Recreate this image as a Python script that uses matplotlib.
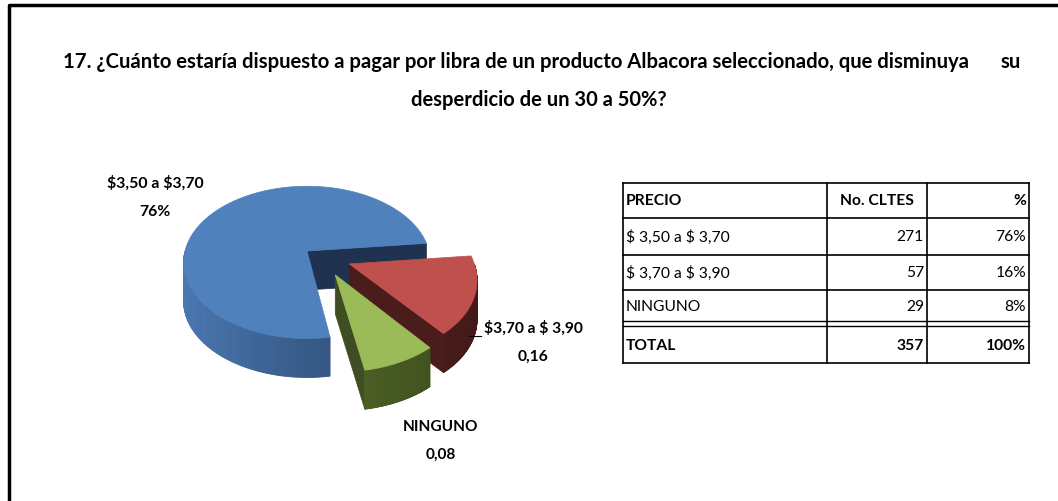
import numpy as np
import matplotlib.pyplot as plt
from matplotlib.colors import to_rgb
from matplotlib.patches import Polygon

plt.rcParams['font.family'] = ['Lato', 'DejaVu Sans']
plt.rcParams['text.parse_math'] = False

# datos
titulo_1 = "17. ¿Cuánto estaría dispuesto a pagar por libra de un producto Albacora seleccionado, que disminuya"
titulo_1b = "su"
titulo_2 = "desperdicio de un 30 a 50%?"
categorias = ['$ 3,50 a $ 3,70', '$ 3,70 a $ 3,90', 'NINGUNO']
clientes = [271, 57, 29]
porcentajes = ['76%', '16%', '8%']
etiquetas_pie = ['$3,50 a $3,70\n76%', '$3,70 a $ 3,90\n0,16', 'NINGUNO\n0,08']
encabezados = ['PRECIO', 'No. CLTES', '%']
fila_total = ['TOTAL', '357', '100%']

col_top = ['#4F81BD', '#C0504D', '#9BBB59']
col_lado_claro = ['#4B79B3', '#5E2424', '#62792F']
col_lado_oscuro = ['#243D5E', '#441919', '#3A4A1C']
col_radial = ['#1F3350', '#4A1C1C', '#3F4E22']

fig = plt.figure(figsize=(10.58, 5.02), dpi=100)
ax = fig.add_axes([0, 0, 1, 1])
ax.set_xlim(0, 1058)
ax.set_ylim(502, 0)
ax.axis('off')
rend = fig.canvas.get_renderer()


def ajustar(t, ancho):
    # ajusta el tamaño de letra para que el texto mida 'ancho' px
    w = t.get_window_extent(rend).width
    t.set_fontsize(t.get_fontsize() * ancho / w)
    return t


# marco
ax.plot([9, 9, 1058], [502, 6, 6], color='black', lw=2.5, solid_capstyle='butt')

# titulo
t1 = ajustar(ax.text(63, 62, titulo_1, fontsize=14, fontweight='bold', va='center', ha='left'), 910)
ax.text(1011, 62, titulo_1b, fontsize=t1.get_fontsize(), fontweight='bold', va='center', ha='center')
ajustar(ax.text(539, 100, titulo_2, fontsize=14, fontweight='bold', va='center', ha='center'), 256)

# pastel 3D con algo de perspectiva
cx, cy = 307, 252
R, ky, h = 122, 0.61, 39
D = 6.7 * R
explode = [0, 46, 46]
desvio = [0, -4, 12]
rot = 6
frac = np.array(clientes) / sum(clientes)
start = rot + 360 * frac[0]
bordes = start - 360 * np.concatenate([[0], np.cumsum(frac)])


def punto(t, r, dz, ex, ey):
    tr = np.radians(t)
    u = ex + r * np.cos(tr)
    v = ey + r * np.sin(tr)
    s = D / (D + v)
    return (cx + s * u, cy - s * ky * v + dz)


def mezcla(c1, c2, s):
    return tuple(np.array(to_rgb(c1)) * (1 - s) + np.array(to_rgb(c2)) * s)


for i in range(len(clientes)):
    t1, t2 = bordes[i + 1], bordes[i]
    mid = np.radians((t1 + t2) / 2 + desvio[i])
    ex = explode[i] * np.cos(mid)
    ey = explode[i] * np.sin(mid)
    # caras radiales
    for t, vis in [(t1, np.cos(np.radians(t1)) > 0), (t2, np.cos(np.radians(t2)) < 0)]:
        if vis:
            pts = [punto(0, 0, 0, ex, ey), punto(t, R, 0, ex, ey),
                   punto(t, R, h, ex, ey), punto(0, 0, h, ex, ey)]
            ax.add_patch(Polygon(pts, closed=True, fc=col_radial[i], ec=col_radial[i], lw=0.5))
    # lado curvo
    ts = np.linspace(t1, t2, 200)
    for a, b in zip(ts[:-1], ts[1:]):
        m = np.radians((a + b) / 2)
        if np.sin(m) < 0:
            s = (1 + np.cos(m)) / 2
            c = mezcla(col_lado_claro[i], col_lado_oscuro[i], s)
            pts = [punto(a, R, 0, ex, ey), punto(b, R, 0, ex, ey),
                   punto(b, R, h, ex, ey), punto(a, R, h, ex, ey)]
            ax.add_patch(Polygon(pts, closed=True, fc=c, ec=c, lw=0.6))
    # cara superior
    pts = [punto(0, 0, 0, ex, ey)] + [punto(t, R, 0, ex, ey) for t in ts]
    ax.add_patch(Polygon(pts, closed=True, fc=col_top[i], ec=col_top[i], lw=0.5))

# etiquetas del pastel
pos_etq = [(155, 197), (533, 342), (441, 441)]
anchos = [97, 99, 75]
for (x, y), txt, w in zip(pos_etq, etiquetas_pie, anchos):
    ajustar(ax.text(x, y, txt, fontsize=13, fontweight='bold', ha='center', va='center',
                    linespacing=2.3), w)
ax.plot([469, 481], [337, 337], color='black', lw=0.8)

# tabla
xs = [623, 827, 927, 1029]
ys = [184, 219, 256, 291, 324, 364]
for y in ys[:-2] + [ys[-1]]:
    ax.plot([xs[0], xs[-1]], [y, y], color='black', lw=1.2)
ax.plot([xs[0], xs[-1]], [ys[-2] - 2, ys[-2] - 2], color='black', lw=1)
ax.plot([xs[0], xs[-1]], [ys[-2] + 3, ys[-2] + 3], color='black', lw=1)
for x in xs:
    ax.plot([x, x], [ys[0], ys[-1]], color='black', lw=1.2)

ref = ax.text(0, 0, categorias[0], fontsize=12)
ajustar(ref, 103)
fs_tabla = ref.get_fontsize()
ref.remove()

filas = [encabezados] + [[c, str(n), p] for c, n, p in zip(categorias, clientes, porcentajes)] + [fila_total]
centros = [(ys[0] + ys[1]) / 2, (ys[1] + ys[2]) / 2, (ys[2] + ys[3]) / 2,
           (ys[3] + ys[4]) / 2, (ys[4] + ys[5]) / 2 + 2]
for k, (fila, yc) in enumerate(zip(filas, centros)):
    peso = 'bold' if k in (0, len(filas) - 1) else 'normal'
    ax.text(xs[0] + 3, yc, fila[0], fontsize=fs_tabla, fontweight=peso, ha='left', va='center')
    ax.text(xs[2] - 3 - (10 if k == 0 else 0), yc, fila[1], fontsize=fs_tabla, fontweight=peso,
            ha='right', va='center')
    ax.text(xs[3] - 3, yc, fila[2], fontsize=fs_tabla, fontweight=peso, ha='right', va='center')

fig.savefig('out.png', dpi=100)
